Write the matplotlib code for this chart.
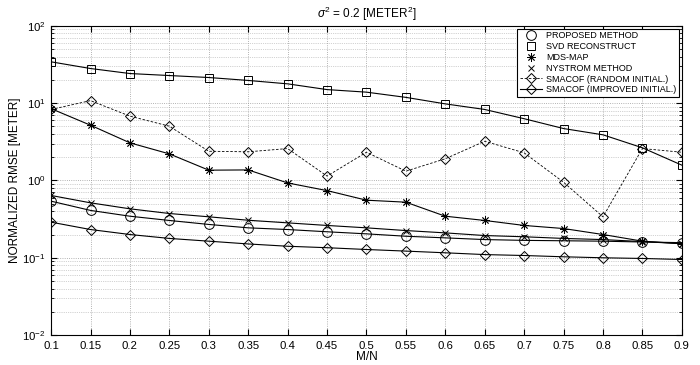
import matplotlib
matplotlib.use("Agg")
import matplotlib.pyplot as plt
from matplotlib.lines import Line2D
from matplotlib.ticker import LogLocator, NullFormatter, FixedLocator

plt.rcParams['font.family'] = ['Liberation Sans', 'DejaVu Sans']
plt.rcParams['mathtext.fontset'] = 'custom'
plt.rcParams['mathtext.rm'] = 'Liberation Sans'
plt.rcParams['mathtext.it'] = 'Liberation Sans:italic'

# values
ratio = [0.1, 0.15, 0.2, 0.25, 0.3, 0.35, 0.4, 0.45, 0.5,
         0.55, 0.6, 0.65, 0.7, 0.75, 0.8, 0.85, 0.9]
x_labels = ['0.1', '0.15', '0.2', '0.25', '0.3', '0.35', '0.4', '0.45', '0.5',
            '0.55', '0.6', '0.65', '0.7', '0.75', '0.8', '0.85', '0.9']

proposed = [0.54, 0.41, 0.345, 0.304, 0.27, 0.244, 0.232, 0.217, 0.204,
            0.19, 0.181, 0.172, 0.168, 0.166, 0.164, 0.16, 0.157]
svd = [34.3, 28.1, 24.2, 22.8, 21.5, 19.7, 17.8, 15.0, 13.9,
       11.9, 9.8, 8.3, 6.3, 4.7, 3.9, 2.65, 1.58]
mds_map = [8.5, 5.19, 3.07, 2.21, 1.36, 1.37, 0.93, 0.74, 0.556,
           0.524, 0.345, 0.304, 0.262, 0.239, 0.2, 0.164, 0.152]
nystrom = [0.64, 0.514, 0.43, 0.374, 0.339, 0.306, 0.283, 0.262, 0.244,
           0.225, 0.21, 0.194, 0.187, 0.178, 0.172, 0.162, 0.152]
smacof_random = [8.3, 10.8, 6.8, 5.04, 2.39, 2.35, 2.59, 1.14, 2.32,
                 1.32, 1.91, 3.22, 2.28, 0.95, 0.339, 2.59, 2.32]
smacof_improved = [0.289, 0.232, 0.2, 0.178, 0.164, 0.151, 0.141, 0.135, 0.128,
                   0.122, 0.116, 0.110, 0.107, 0.103, 0.1, 0.098, 0.095]

fig = plt.figure(figsize=(7.0, 3.65), dpi=100)
ax = fig.add_axes([0.073, 0.082, 0.901, 0.847])

star = (8, 2, 0)  # matlab-like asterisk
lw = 0.8
ms = 6
ax.plot(ratio, svd, color='black', lw=lw, marker='s', ms=ms, mfc='none', mew=0.7)
ax.plot(ratio, smacof_random, color='black', lw=0.6, ls=(0, (3, 2)), marker='D', ms=5.5, mfc='none', mew=0.7)
ax.plot(ratio, mds_map, color='black', lw=lw, marker=star, ms=6, mew=0.6)
ax.plot(ratio, nystrom, color='black', lw=lw, marker='x', ms=5, mew=0.7)
ax.plot(ratio, proposed, color='black', lw=lw, marker='o', ms=ms + 1, mfc='none', mew=0.7)
ax.plot(ratio, smacof_improved, color='black', lw=lw, marker='D', ms=5.5, mfc='none', mew=0.7)

ax.set_yscale('log')
ax.set_xlim(0.1, 0.9)
ax.set_ylim(1e-2, 1e2)
ax.xaxis.set_major_locator(FixedLocator(ratio))
ax.set_xticklabels(x_labels)
ax.yaxis.set_major_locator(LogLocator(base=10, numticks=10))
ax.yaxis.set_minor_locator(LogLocator(base=10, subs=range(2, 10), numticks=20))
ax.yaxis.set_minor_formatter(NullFormatter())

ax.grid(True, which='major', ls=':', lw=0.6, color='#9a9a9a')
ax.grid(True, which='minor', axis='y', ls=':', lw=0.5, color='#a8a8a8')
ax.tick_params(which='both', direction='in', top=True, right=True, labelsize=8.2)
ax.tick_params(axis='x', pad=4.5)
ax.tick_params(axis='y', pad=4)
ax.tick_params(which='major', length=4)
ax.tick_params(which='minor', length=2)
for s in ax.spines.values():
    s.set_linewidth(0.8)

ax.set_xlabel('M/N', fontsize=8.5, labelpad=0)
ax.set_ylabel('NORMALIZED RMSE [METER]', fontsize=8.5, labelpad=1)
ax.set_title(r'$\sigma^2$ = 0.2 [METER$^2$]', fontsize=8.5, pad=6)

handles = [
    Line2D([], [], color='black', ls='none', marker='o', ms=7, mfc='none', mew=0.7),
    Line2D([], [], color='black', ls='none', marker='s', ms=6, mfc='none', mew=0.7),
    Line2D([], [], color='black', ls='none', marker=star, ms=6, mew=0.6),
    Line2D([], [], color='black', ls='none', marker='x', ms=5, mew=0.7),
    Line2D([], [], color='black', lw=0.6, ls=(0, (3, 2)), marker='D', ms=5.5, mfc='none', mew=0.7),
    Line2D([], [], color='black', lw=0.8, marker='D', ms=5.5, mfc='none', mew=0.7),
]
names = ['PROPOSED METHOD', 'SVD RECONSTRUCT', 'MDS-MAP', 'NYSTROM METHOD',
         'SMACOF (RANDOM INITIAL.)', 'SMACOF (IMPROVED INITIAL.)']
leg = ax.legend(handles, names, loc='upper right', fontsize=6.5, frameon=True,
                fancybox=False, edgecolor='black', framealpha=1, borderpad=0.3,
                labelspacing=0.2, handlelength=2.4, handletextpad=0.5,
                borderaxespad=0.3)
leg.get_frame().set_linewidth(0.8)

fig.savefig('out.png', dpi=100)
